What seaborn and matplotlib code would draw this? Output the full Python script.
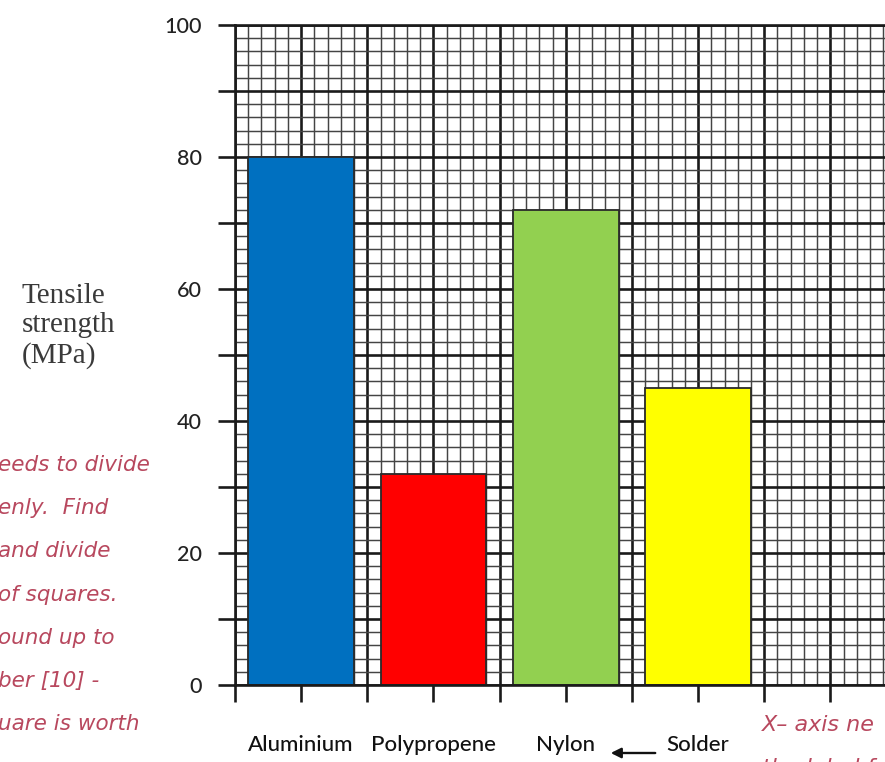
import numpy as np
import matplotlib
matplotlib.use("Agg")
import matplotlib.pyplot as plt
import seaborn as sns

# bar data
materials = ["Aluminium", "Polypropene", "Nylon", "Solder"]
strength = [80, 32, 72, 45]
y_tick_values = [0, 10, 20, 30, 40, 50, 60, 70, 80, 90, 100]

# teacher's handwritten notes (cut off at the image edges)
left_notes = ["eeds to divide", "enly.  Find", "and divide", "of squares.",
              "ound up to", "ber [10] -", "uare is worth"]
right_notes = ["X\u2013 axis ne", "the label fo"]

bar_colors = ["#0070c0", "#ff0000", "#92d050", "#ffff00"]
note_color = "#b8485e"

sns.set_style("white")
plt.rcParams["font.family"] = ["Lato", "DejaVu Sans"]

W, H = 885, 762
fig = plt.figure(figsize=(W / 100, H / 100), dpi=100)

def fx(px):
    return px / W

def fy(py):
    return 1 - py / H

# axes placed in pixel terms so the grid runs off the right edge like the scan
ax = fig.add_axes([fx(235), (H - 685) / H, 5 * 132.3 / W, 660 / H])

sns.barplot(x=materials, y=strength, hue=materials, palette=bar_colors,
            width=0.8, edgecolor="#2a2a2a", linewidth=1.3, saturation=1,
            legend=False, ax=ax)

ax.set_xlim(-0.5, 4.5)
ax.set_ylim(0, 100)

# major ticks every half category / every 10 MPa, minor graph-paper lines
x_major = np.arange(-0.5, 4.51, 0.5)
ax.set_xticks(x_major)
ax.set_xticklabels([materials[int(v)] if v.is_integer() and int(v) < len(materials) else ""
                    for v in x_major])
ax.set_xticks(np.arange(-0.5, 4.51, 0.1), minor=True)
ax.set_yticks(y_tick_values)
ax.set_yticklabels([str(v) if v % 20 == 0 else "" for v in y_tick_values])
ax.set_yticks(np.arange(0, 100.1, 2), minor=True)

ax.tick_params(which="major", length=12, width=1.9, color="#1a1a1a",
               direction="out")
ax.tick_params(which="minor", length=0)
ax.tick_params(axis="y", labelsize=15.5, pad=12, labelcolor="#222222")
ax.tick_params(axis="x", labelsize=16, pad=24, labelcolor="#111111")
ax.tick_params(left=True, bottom=True)
for lab in ax.get_xticklabels() + ax.get_yticklabels():
    lab.set_fontweight("medium")

ax.grid(which="major", color="#1a1a1a", linewidth=1.9)
ax.grid(which="minor", color="#444444", linewidth=1.05)
ax.set_axisbelow(True)

for side in ["left", "bottom", "top"]:
    ax.spines[side].set_visible(True)
    ax.spines[side].set_color("#1a1a1a")
    ax.spines[side].set_linewidth(1.9)
ax.spines["right"].set_visible(False)
ax.set_xlabel("")
ax.set_ylabel("")

# y axis title in a serif face
fig.text(fx(22), fy(326), "Tensile\nstrength\n(MPa)", ha="left", va="center",
         fontsize=21, family="Liberation Serif", color="#3a3a3a",
         linespacing=1.15)

# handwritten notes on the left
for i, line in enumerate(left_notes):
    fig.text(fx(-2), fy(465 + i * 43.2), line, ha="left", va="center",
             fontsize=15.5, family="DejaVu Sans", style="oblique",
             color=note_color)

# handwritten notes bottom right
fig.text(fx(762), fy(725), right_notes[0], ha="left", va="center",
         fontsize=16, family="DejaVu Sans", style="oblique", color=note_color)
fig.text(fx(762), fy(768), right_notes[1], ha="left", va="center",
         fontsize=16, family="DejaVu Sans", style="oblique", color=note_color)

# arrow from Solder back to Nylon
fig.add_artist(matplotlib.patches.FancyArrowPatch(
    (fx(658), fy(753)), (fx(608), fy(753)), transform=fig.transFigure,
    arrowstyle="-|>", mutation_scale=15, color="#111111", linewidth=1.7))

fig.savefig("out.png", dpi=100)
